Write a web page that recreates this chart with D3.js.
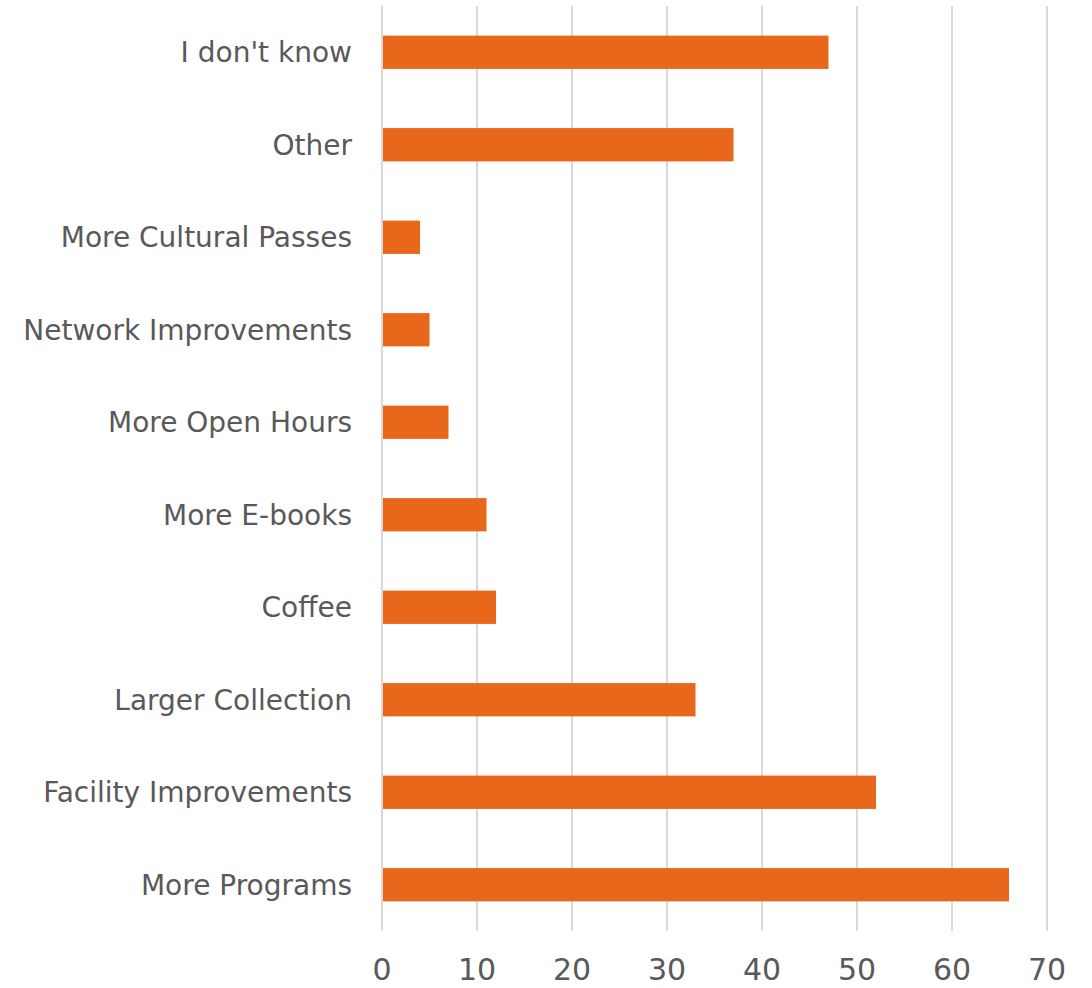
<!DOCTYPE html>
<html>
<head>
<meta charset="utf-8">
<script src="https://cdn.jsdelivr.net/npm/d3@7"></script>
<style>
  body { margin: 0; background: #fff; }
  text { font-family: "DejaVu Sans", sans-serif; fill: #595959; }
</style>
</head>
<body>
<svg id="chart" width="1092" height="988"></svg>
<script>
var categories = ["I don't know", "Other", "More Cultural Passes", "Network Improvements",
  "More Open Hours", "More E-books", "Coffee", "Larger Collection",
  "Facility Improvements", "More Programs"];
var counts = [47, 37, 4, 5, 7, 11, 12, 33, 52, 66];
var ticks = [0, 10, 20, 30, 40, 50, 60, 70];

var svg = d3.select("#chart");
var plotLeft = 382, plotRight = 1047, plotTop = 6, plotBottom = 931;

var x = d3.scaleLinear().domain([0, 70]).range([plotLeft, plotRight]);
var y = d3.scaleBand().domain(categories).range([plotTop, plotBottom])
  .paddingInner(0.64).paddingOuter(0.32);

// gridlines
svg.append("g").selectAll("line")
  .data(ticks)
  .enter().append("line")
  .attr("x1", d => x(d)).attr("x2", d => x(d))
  .attr("y1", plotTop).attr("y2", plotBottom)
  .attr("stroke", "#d9d9d9").attr("stroke-width", 2);

// bars
svg.append("g").selectAll("rect")
  .data(counts)
  .enter().append("rect")
  .attr("x", x(0) + 1)
  .attr("y", (d, i) => y(categories[i]))
  .attr("width", d => x(d) - x(0) - 1)
  .attr("height", y.bandwidth())
  .attr("fill", "#e8671a");

// category labels
svg.append("g").selectAll("text")
  .data(categories)
  .enter().append("text")
  .attr("x", plotLeft - 30)
  .attr("y", d => y(d) + y.bandwidth() / 2)
  .attr("dy", "0.36em")
  .attr("text-anchor", "end")
  .style("font-size", "28px")
  .text(d => d);

// x tick labels
svg.append("g").selectAll("text")
  .data(ticks)
  .enter().append("text")
  .attr("x", d => x(d))
  .attr("y", 980)
  .attr("text-anchor", "middle")
  .style("font-size", "30px")
  .text(d => d);
</script>
</body>
</html>
